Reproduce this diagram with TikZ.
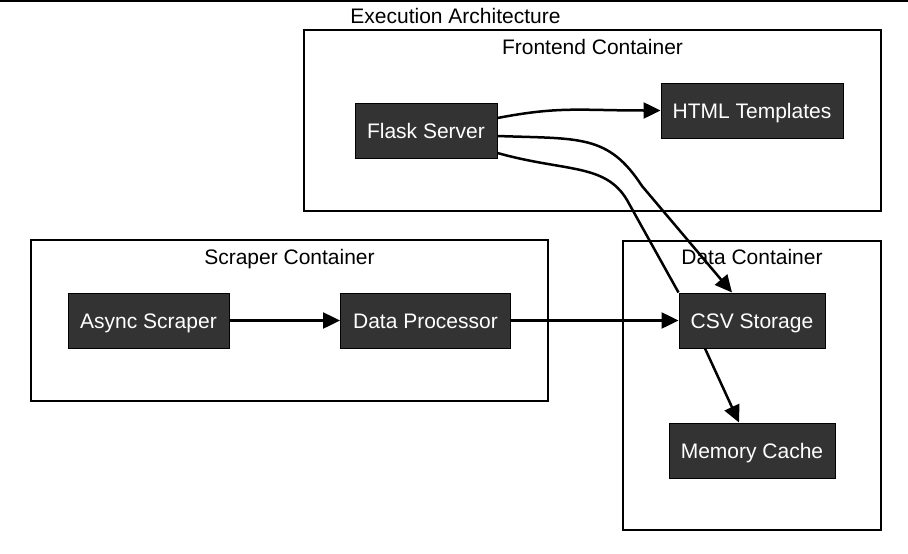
\documentclass[tikz,border=0pt]{standalone}
\usepackage{fontspec}
\setmainfont{Liberation Sans}
\usetikzlibrary{arrows.meta}
\definecolor{nodefill}{HTML}{333333}
\tikzset{
  box/.style={draw=black, line width=1pt, fill=nodefill, text=white, inner sep=0pt,
    minimum height=55pt, text height=19pt, text depth=4pt, font=\fontsize{21}{25}\selectfont},
  cont/.style={draw=black, line width=1.2pt, fill=none},
  ctitle/.style={font=\fontsize{21}{25}\selectfont, inner sep=0pt, text height=19pt, text depth=4pt},
  flow/.style={line width=2.5pt, -{Triangle[length=17pt,width=16pt]}},
  flowplain/.style={line width=2.5pt},
}
\begin{document}
\begin{tikzpicture}[x=1pt,y=-1pt]
\useasboundingbox (0,0) rectangle (908,554);
\coordinate (tl) at (0,0.8);
\coordinate (tr) at (908,0.8);
\draw[line width=1.6pt] (tl) -- (tr);
\node[ctitle] (title) at (455.5,16) {Execution Architecture};
% containers
\draw[cont] (304,30) rectangle (881,211);
\draw[cont] (31,240) rectangle (548,401);
\draw[cont] (623,241) rectangle (881,530);
\node[ctitle] (tfront) at (592.5,46.5) {Frontend Container};
\node[ctitle] (tscrape) at (289.5,256.5) {Scraper Container};
\node[ctitle] (tdata) at (752,256.5) {Data Container};
% nodes
\node[box, minimum width=142pt] (flask) at (426,130.5) {Flask Server};
\node[box, minimum width=182pt] (html) at (752,110.5) {HTML Templates};
\node[box, minimum width=161pt] (async) at (148.5,320.5) {Async Scraper};
\node[box, minimum width=170pt] (proc) at (425.5,320.5) {Data Processor};
\node[box, minimum width=146pt] (csv) at (752,320.5) {CSV Storage};
\node[box, minimum width=166pt] (mem) at (752,450.5) {Memory Cache};
% edges
\draw[flow] ([yshift=12.5pt]flask.east) .. controls (560,106) and (580,110.5) .. (html.west);
\draw[flow] ([yshift=-5.5pt]flask.east) .. controls (580,139) and (608,134) .. (642,186) -- ([xshift=-20pt]csv.north);
\draw[flowplain] ([yshift=-22.5pt]flask.east) .. controls (565,172) and (605,163) .. (627,200) -- (csv.north west);
\draw[flow] (async.east) -- (proc.west);
\draw[flow] (proc.east) -- (csv.west);
\draw[flow] ([xshift=-47pt]csv.south) -- ([xshift=-13pt]mem.north);
\end{tikzpicture}
\end{document}
